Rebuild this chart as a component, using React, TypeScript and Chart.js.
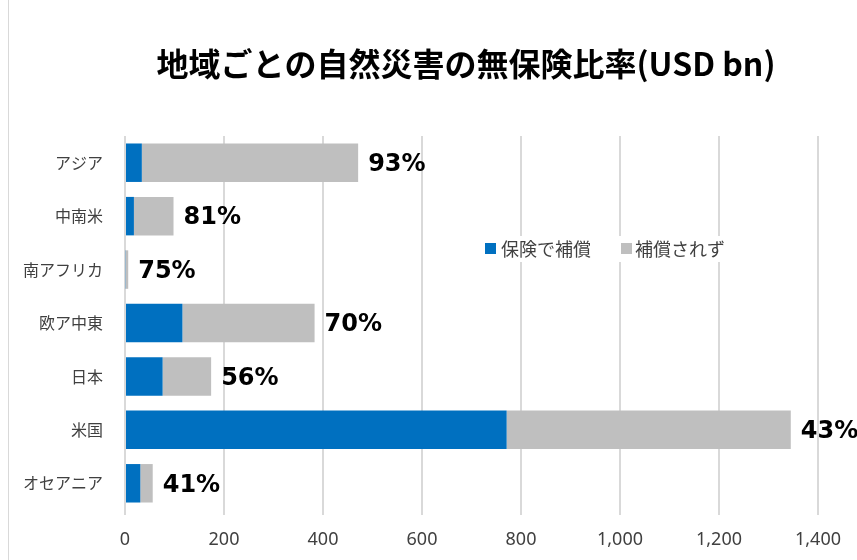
import React, { useEffect, useRef } from "react";
import { Chart, registerables } from "chart.js";

Chart.register(...registerables);

const titleText = "地域ごとの自然災害の無保険比率(USD bn)";
const categories = ["アジア", "中南米", "南アフリカ", "欧ア中東", "日本", "米国", "オセアニア"];
const seriesNames = ["保険で補償", "補償されず"];
const insured = [34, 18, 1.5, 116, 76, 771, 31];
const uninsured = [437, 80, 5, 267, 98, 574, 25];
const uninsuredShare = ["93%", "81%", "75%", "70%", "56%", "43%", "41%"];
const xMin = 0;
const xMax = 1400;
const xStep = 200;

const BLUE = "#0070C0";
const GRAY = "#BFBFBF";
const TEXT = "#404040";
const GRID = "#D9D9D9";

const overlay = {
  id: "overlay",
  afterDatasetsDraw(chart: any) {
    const ctx = chart.ctx;
    ctx.save();
    // outer border line on the left
    ctx.strokeStyle = GRID;
    ctx.lineWidth = 1;
    ctx.beginPath();
    ctx.moveTo(8.5, 0);
    ctx.lineTo(8.5, chart.height);
    ctx.stroke();

    // title
    ctx.fillStyle = "#000000";
    ctx.font = "bold 32px 'Noto Sans CJK JP', sans-serif";
    ctx.textAlign = "center";
    ctx.textBaseline = "middle";
    ctx.fillText(titleText, 466, 64);

    // data labels
    const meta = chart.getDatasetMeta(1);
    ctx.font = "bold 24px 'DejaVu Sans', sans-serif";
    ctx.textAlign = "left";
    ctx.fillStyle = "#000000";
    meta.data.forEach((el: any, i: number) => {
      ctx.fillText(uninsuredShare[i], el.x + 10, el.y + 2);
    });

    // legend
    ctx.font = "18px 'Noto Sans CJK JP', sans-serif";
    ctx.textBaseline = "middle";
    const colors = [BLUE, GRAY];
    let x = 485;
    const y = 249;
    const w1 = ctx.measureText(seriesNames[0]).width;
    const w2 = ctx.measureText(seriesNames[1]).width;
    const totalW = 11 + 5 + w1 + 30 + 11 + 3 + w2;
    ctx.fillStyle = "#ffffff";
    ctx.fillRect(x - 4, y - 13, totalW + 8, 26);
    seriesNames.forEach((name, i) => {
      ctx.fillStyle = colors[i];
      ctx.fillRect(x, y - 6, 11, 11);
      x += i === 0 ? 16 : 14;
      ctx.fillStyle = TEXT;
      ctx.fillText(name, x, y);
      x += ctx.measureText(name).width + 30;
    });
    ctx.restore();
  },
};

export default function App() {
  const ref = useRef<HTMLCanvasElement | null>(null);
  useEffect(() => {
    document.body.style.margin = "0";
    if (!ref.current) return;
    const chart = new Chart(ref.current, {
      type: "bar",
      data: {
        labels: categories,
        datasets: [
          { label: seriesNames[0], data: insured, backgroundColor: BLUE, borderWidth: 0 },
          { label: seriesNames[1], data: uninsured, backgroundColor: GRAY, borderWidth: 0 },
        ],
      },
      options: {
        indexAxis: "y",
        responsive: false,
        animation: false,
        devicePixelRatio: 1,
        layout: { padding: { left: 0, right: 39, top: 136, bottom: 0 } },
        datasets: { bar: { barPercentage: 0.72, categoryPercentage: 1 } },
        plugins: {
          legend: { display: false },
          title: { display: false },
          tooltip: { enabled: false },
        },
        scales: {
          x: {
            stacked: true,
            min: xMin,
            max: xMax,
            ticks: {
              stepSize: xStep,
              color: TEXT,
              padding: 14,
              font: { family: "'Noto Sans', sans-serif", size: 18 },
              callback: (v: any) => Number(v).toLocaleString("en-US"),
            },
            grid: { color: GRID, lineWidth: 2, tickLength: 5, drawTicks: true },
            border: { display: false },
            afterFit: (s: any) => {
              s.height = 50;
            },
          },
          y: {
            stacked: true,
            ticks: {
              color: TEXT,
              padding: 14,
              font: { family: "'Noto Sans CJK JP', sans-serif", size: 16 },
            },
            grid: { display: false },
            border: { display: false },
            afterFit: (s: any) => {
              s.width = 125;
            },
          },
        },
      },
      plugins: [overlay],
    } as any);
    return () => chart.destroy();
  }, []);
  return <canvas ref={ref} width={857} height={560} style={{ display: "block" }} />;
}
